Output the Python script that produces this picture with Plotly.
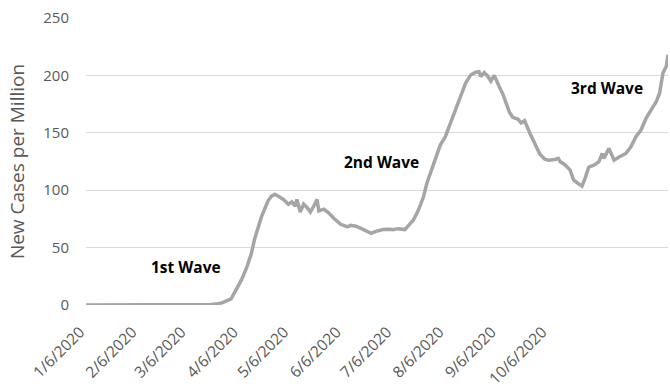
import plotly.graph_objects as go

dates = [
    "2020-01-06", "2020-01-13", "2020-01-20", "2020-01-27", "2020-02-03", "2020-02-10",
    "2020-02-17", "2020-02-24", "2020-03-02", "2020-03-09", "2020-03-16", "2020-03-20",
    "2020-03-24", "2020-03-27", "2020-04-01", "2020-04-04", "2020-04-07", "2020-04-10",
    "2020-04-13", "2020-04-15", "2020-04-17", "2020-04-19", "2020-04-21", "2020-04-23",
    "2020-04-25", "2020-04-27", "2020-04-29", "2020-05-02", "2020-05-05", "2020-05-07",
    "2020-05-09", "2020-05-10", "2020-05-12", "2020-05-14", "2020-05-16", "2020-05-18",
    "2020-05-20", "2020-05-22", "2020-05-23", "2020-05-26", "2020-05-29", "2020-06-01",
    "2020-06-05", "2020-06-09", "2020-06-11", "2020-06-14", "2020-06-17", "2020-06-20",
    "2020-06-23", "2020-06-26", "2020-06-30", "2020-07-04", "2020-07-06", "2020-07-09",
    "2020-07-13", "2020-07-15", "2020-07-18", "2020-07-21", "2020-07-24", "2020-07-26",
    "2020-07-28", "2020-07-31", "2020-08-03", "2020-08-06", "2020-08-09", "2020-08-12",
    "2020-08-15", "2020-08-18", "2020-08-21", "2020-08-24", "2020-08-26", "2020-08-27",
    "2020-08-29", "2020-08-31", "2020-09-02", "2020-09-04", "2020-09-07", "2020-09-09",
    "2020-09-11", "2020-09-13", "2020-09-15", "2020-09-18", "2020-09-20", "2020-09-22",
    "2020-09-25", "2020-09-28", "2020-10-01", "2020-10-04", "2020-10-06", "2020-10-10",
    "2020-10-12", "2020-10-13", "2020-10-16", "2020-10-19", "2020-10-21", "2020-10-24",
    "2020-10-26", "2020-10-28", "2020-10-30", "2020-11-02", "2020-11-05", "2020-11-07",
    "2020-11-08", "2020-11-11", "2020-11-14", "2020-11-17", "2020-11-21", "2020-11-24",
    "2020-11-27", "2020-11-30", "2020-12-03", "2020-12-06", "2020-12-09", "2020-12-11",
    "2020-12-13", "2020-12-15", "2020-12-16",
]

new_cases_per_million = [
    0, 0, 0, 0, 0, 0,
    0, 0, 0, 0.1, 0.3, 0.5,
    1, 2, 5.4, 12.7, 21.4, 31.6,
    44.7, 57.8, 68, 76.7, 84, 91,
    94.8, 96.5, 94.8, 91.9, 87.8, 89.8,
    86, 92, 81, 88, 85, 81,
    86, 92, 82, 83.5, 80, 75.3,
    70.3, 68, 69.4, 68.6, 66.7, 65,
    62.5, 64.2, 65.7, 66, 65.5, 66.5,
    65.7, 69, 73.8, 82.5, 94, 105.8,
    114.6, 127.7, 139.3, 146.6, 158.3, 171.4,
    181.5, 193.2, 200.4, 202.8, 203.3, 199,
    202.4, 199.5, 195, 200, 190, 184,
    176, 168, 163.5, 162, 158.5, 160.5,
    150, 140.5, 131.5, 127, 126.2, 126.8,
    127.7, 125, 122, 117.5, 109, 105.5,
    103.5, 111, 120, 121.8, 124.7, 132,
    127.7, 136.4, 126.2, 129, 132, 137.8,
    146.6, 152.4, 162.6, 170, 177, 184.5,
    202, 208, 218,
]

tick_dates = ["2020-01-06", "2020-02-06", "2020-03-06", "2020-04-06", "2020-05-06",
              "2020-06-06", "2020-07-06", "2020-08-06", "2020-09-06", "2020-10-06"]
tick_labels = ["1/6/2020", "2/6/2020", "3/6/2020", "4/6/2020", "5/6/2020",
               "6/6/2020", "7/6/2020", "8/6/2020", "9/6/2020", "10/6/2020"]

y_ticks = [0, 50, 100, 150, 200, 250]

wave_labels = ["1st Wave", "2nd Wave", "3rd Wave"]

FONT = "Open Sans"
GRAY_TXT = "#595959"

fig = go.Figure()
fig.add_trace(go.Scatter(
    x=dates, y=new_cases_per_million, mode="lines",
    line=dict(color="#a5a5a5", width=3.5),
    showlegend=False, hoverinfo="skip",
))

fig.add_annotation(x="2020-03-05", y=33, text="<b>" + wave_labels[0] + "</b>",
                   showarrow=False, font=dict(family=FONT, size=15.5, color="#000000"))
fig.add_annotation(x="2020-06-29", y=125, text="<b>" + wave_labels[1] + "</b>",
                   showarrow=False, font=dict(family=FONT, size=15.5, color="#000000"))
fig.add_annotation(x="2020-11-10", y=189, text="<b>" + wave_labels[2] + "</b>",
                   showarrow=False, font=dict(family=FONT, size=15.5, color="#000000"))

fig.update_layout(
    width=670, height=390,
    margin=dict(l=86, r=2, t=18, b=85, autoexpand=False),
    paper_bgcolor="white", plot_bgcolor="white",
    font=dict(family=FONT, color=GRAY_TXT),
    xaxis=dict(
        type="date",
        range=["2020-01-06", "2020-12-16"],
        tickmode="array", tickvals=tick_dates, ticktext=tick_labels,
        tickangle=-45, tickfont=dict(size=15.5, color=GRAY_TXT),
        showgrid=False, zeroline=False, showline=False, ticks="",
        ticklabelstandoff=14, ticklabelshift=-6, automargin=False,
    ),
    yaxis=dict(
        range=[0, 250], tickmode="array", tickvals=y_ticks,
        tickfont=dict(size=15, color=GRAY_TXT),
        showgrid=True, gridcolor="#d9d9d9", gridwidth=1,
        zeroline=False, showline=False, ticks="",
        ticklabelstandoff=16, automargin=False,
        title=dict(text="New Cases per Million", font=dict(size=19, color=GRAY_TXT), standoff=13),
    ),
)

fig.write_html(
    "out.html",
    config={"displayModeBar": False, "staticPlot": True},
    post_script="document.body.style.margin='0';document.body.style.overflow='hidden';",
)
